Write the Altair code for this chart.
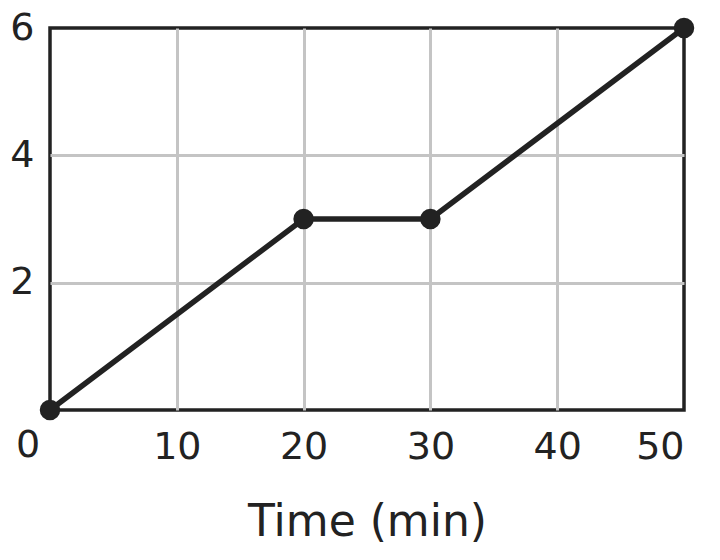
import altair as alt
import pandas as pd

times = [0, 20, 30, 50]
values = [0, 3, 3, 6]
x_ticks = [0, 10, 20, 30, 40, 50]
y_ticks = [0, 2, 4, 6]

df = pd.DataFrame({"t": times, "v": values})
origin = pd.DataFrame({"t": [0], "v": [0], "label": ["0"]})

FONT = "DejaVu Sans"
ink = "#222222"
grid = "#c4c4c4"

xs = alt.Scale(domain=[0, 50], nice=False, zero=False)
ys = alt.Scale(domain=[0, 6], nice=False)

x_axis = alt.Axis(values=x_ticks, format="d", labelExpr="datum.value == 0 ? '' : datum.label",
                  title="Time (min)", grid=True,
                  gridColor={"condition": {"test": "datum.value == 0 || datum.value == 50", "value": "transparent"}, "value": grid},
                  gridWidth=3,
                  domain=False, ticks=False, labelFontSize=38, labelFont=FONT,
                  labelColor=ink, labelPadding=18, labelBaseline="top",
                  titleFontSize=44, titleFont=FONT,
                  titleFontWeight="normal", titleColor=ink, titlePadding=34)
y_axis = alt.Axis(values=y_ticks, format="d", labelExpr="datum.value == 0 ? '' : datum.label",
                  title=None, grid=True,
                  gridColor={"condition": {"test": "datum.value == 0 || datum.value == 6", "value": "transparent"}, "value": grid},
                  gridWidth=3,
                  domain=False, ticks=False, labelFontSize=38, labelFont=FONT,
                  labelColor=ink, labelPadding=16, labelBaseline="middle")

base = alt.Chart(df)
line = base.mark_line(color=ink, strokeWidth=5.5).encode(
    x=alt.X("t:Q", scale=xs, axis=x_axis),
    y=alt.Y("v:Q", scale=ys, axis=y_axis),
)
pts = base.mark_circle(color=ink, size=420, opacity=1).encode(
    x=alt.X("t:Q", scale=xs), y=alt.Y("v:Q", scale=ys)
)
zero = alt.Chart(origin).mark_text(font=FONT, fontSize=38, color=ink, dx=-22, dy=36).encode(
    x=alt.X("t:Q", scale=xs), y=alt.Y("v:Q", scale=ys), text="label:N"
)

chart = (line + pts + zero).properties(
    width=634, height=382,
    autosize=alt.AutoSizeParams(type="none"),
    padding={"left": 42, "top": 20, "right": 20, "bottom": 140},
).configure_view(stroke=ink, strokeWidth=3.5)

chart.save("out.html", embed_options={"renderer": "svg", "actions": False})
